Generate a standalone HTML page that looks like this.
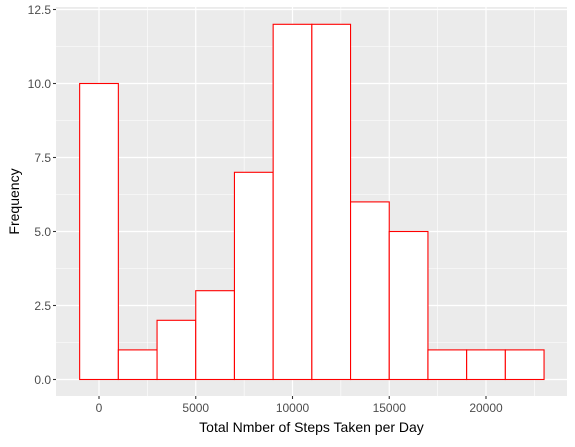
<!DOCTYPE html>
<html><head><meta charset="utf-8"><style>
body{margin:0;background:#fff;font-family:"Liberation Sans",Arial,sans-serif}
</style></head><body>
<svg id="chart" width="575" height="442" xmlns="http://www.w3.org/2000/svg"></svg>
<script>
const binCenters=[0,2000,4000,6000,8000,10000,12000,14000,16000,18000,20000,22000];
const counts=[10,1,2,3,7,12,12,6,5,1,1,1];
const xTicks=[0,5000,10000,15000,20000];
const yTicks=[0,2.5,5,7.5,10,12.5];
const yTickLabels=["0.0","2.5","5.0","7.5","10.0","12.5"];
const binWidth=2000;
const P={l:56,r:567,t:7,b:396};
const xs=v=>99+(v)*(387/20000);
const ys=v=>379.5-v*29.6;
const svg=document.getElementById('chart');
const NS='http://www.w3.org/2000/svg';
function mk(t,a,p){const e=document.createElementNS(NS,t);for(const k in a)e.setAttribute(k,a[k]);(p||svg).appendChild(e);return e;}
const bg=mk('rect',{x:P.l,y:P.t,width:P.r-P.l,height:P.b-P.t,fill:'#EBEBEB'});


for(let i=0;i<xTicks.length-1;i++){const x=xs((xTicks[i]+xTicks[i+1])/2);mk('line',{x1:x,x2:x,y1:P.t,y2:P.b,stroke:'#fff','stroke-width':0.6});}
{const x=xs(xTicks[0]-2500);if(x>P.l)mk('line',{x1:x,x2:x,y1:P.t,y2:P.b,stroke:'#fff','stroke-width':0.6});
 const x2=xs(xTicks[xTicks.length-1]+2500);if(x2<P.r)mk('line',{x1:x2,x2:x2,y1:P.t,y2:P.b,stroke:'#fff','stroke-width':0.6});}
for(let i=0;i<yTicks.length-1;i++){const y=ys((yTicks[i]+yTicks[i+1])/2);mk('line',{x1:P.l,x2:P.r,y1:y,y2:y,stroke:'#fff','stroke-width':0.6});}
xTicks.forEach(v=>{const x=xs(v);mk('line',{x1:x,x2:x,y1:P.t,y2:P.b,stroke:'#fff','stroke-width':1.2});
 mk('line',{x1:x,x2:x,y1:P.b,y2:P.b+3,stroke:'#333','stroke-width':1.1});
 const t=mk('text',{x:x,y:P.b+16,'text-anchor':'middle','font-size':12,fill:'#4D4D4D'});t.textContent=v;
 
 });
yTicks.forEach((v,i)=>{const y=ys(v);mk('line',{x1:P.l,x2:P.r,y1:y,y2:y,stroke:'#fff','stroke-width':1.2});
 mk('line',{x1:P.l-3,x2:P.l,y1:y,y2:y,stroke:'#333','stroke-width':1.1});
 const t=mk('text',{x:P.l-5,y:y+4.5,'text-anchor':'end','font-size':12,fill:'#4D4D4D'});t.textContent=yTickLabels[i];
 
 });
binCenters.forEach((c,i)=>{const x0=xs(c-binWidth/2),x1=xs(c+binWidth/2);
 const r=mk('rect',{x:x0,y:ys(counts[i]),width:x1-x0,height:ys(0)-ys(counts[i]),fill:'#fff',stroke:'#FF0000','stroke-width':1.1});
 
 });
const xt=mk('text',{x:(P.l+P.r)/2,y:432,'text-anchor':'middle','font-size':14,fill:'#000'});xt.textContent='Total Nmber of Steps Taken per Day';


const yt=mk('text',{x:0,y:0,'text-anchor':'middle','font-size':14,fill:'#000',transform:`translate(19,${(P.t+P.b)/2}) rotate(-90)`});yt.textContent='Frequency';


</script>
</body></html>
